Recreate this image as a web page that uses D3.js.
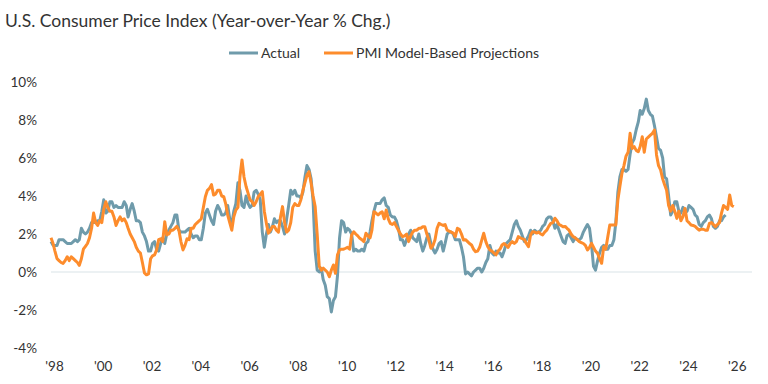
<html>
<head>
  <title>U.S. CPI vs PMI model</title>
  <script src="https://d3js.org/d3.v7.min.js"></script>
  <meta charset="utf-8">
</head>

<style>
  body {
    margin: 0;
    background: #fff;
  }

  text {
    font-family: Lato, 'Open Sans', sans-serif;
    fill: #333;
  }

  .axis path {
    display: none;
  }
</style>

<body>
  <div class="chart"></div>

  <script>
    // monthly data, first point = Jan 1998
    var startYear = 1998;

    // CPI YoY % chg, Jan 1998 .. Sep 2025
    var actual = [
      1.6,1.4,1.4,1.4,1.7,1.7,1.7,1.6,1.5,1.5,1.5,1.6,
      1.7,1.6,1.7,2.3,2.1,2.0,2.1,2.3,2.6,2.6,2.6,2.7,
      2.7,3.2,3.8,3.1,3.2,3.7,3.7,3.4,3.5,3.4,3.4,3.4,
      3.7,3.5,2.9,3.3,3.6,3.2,2.7,2.7,2.6,2.1,1.9,1.6,
      1.1,1.1,1.5,1.6,1.2,1.1,1.5,1.8,1.5,2.0,2.2,2.4,
      2.6,3.0,3.0,2.2,2.1,2.1,2.1,2.2,2.3,2.0,1.8,1.9,
      1.9,1.7,1.7,2.3,3.1,3.3,3.0,2.7,2.5,3.2,3.5,3.3,
      3.0,3.0,3.1,3.5,2.8,2.5,3.2,3.6,4.7,4.3,3.5,3.4,
      4.0,3.6,3.4,3.5,4.2,4.3,4.1,3.8,2.1,1.3,2.0,2.5,
      2.1,2.4,2.8,2.6,2.7,2.7,2.4,2.0,2.8,3.5,4.3,4.1,
      4.3,4.0,4.0,3.9,4.2,5.0,5.6,5.4,4.9,3.7,1.1,0.1,
      0.0,0.2,-0.4,-0.7,-1.3,-1.4,-2.1,-1.5,-1.3,-0.2,1.8,2.7,
      2.6,2.1,2.3,2.2,2.0,1.1,1.2,1.1,1.1,1.2,1.1,1.5,
      1.6,2.1,2.7,3.2,3.6,3.6,3.6,3.8,3.9,3.5,3.4,3.0,
      2.9,2.9,2.7,2.3,1.7,1.7,1.4,1.7,2.0,2.2,1.8,1.7,
      1.6,2.0,1.5,1.1,1.4,1.8,2.0,1.5,1.2,1.0,1.2,1.5,
      1.6,1.1,1.5,2.0,2.1,2.1,2.0,1.7,1.7,1.7,1.3,0.8,
      -0.1,0.0,-0.1,-0.2,0.0,0.1,0.2,0.2,0.0,0.2,0.5,0.7,
      1.4,1.0,0.9,1.1,1.0,1.0,0.8,1.1,1.5,1.6,1.7,2.1,
      2.5,2.7,2.4,2.2,1.9,1.6,1.7,1.9,2.2,2.0,2.2,2.1,
      2.1,2.2,2.4,2.5,2.8,2.9,2.9,2.7,2.3,2.5,2.2,1.9,
      1.6,1.5,1.9,2.0,1.8,1.6,1.8,1.7,1.7,1.8,2.1,2.3,
      2.5,2.3,1.5,0.3,0.1,0.6,1.0,1.3,1.4,1.2,1.2,1.4,
      1.4,1.7,2.6,4.2,5.0,5.4,5.4,5.3,5.4,6.2,6.8,7.0,
      7.5,7.9,8.5,8.3,8.6,9.1,8.5,8.3,8.2,7.7,7.1,6.5,
      6.4,6.0,5.0,4.9,4.0,3.0,3.2,3.7,3.7,3.2,3.1,3.4,
      3.1,3.2,3.5,3.4,3.3,3.0,2.9,2.5,2.4,2.6,2.7,2.9,
      3.0,2.8,2.4,2.3,2.4,2.7,2.7,2.9,3.0
    ];

    // PMI model-based projection, Jan 1998 .. Jan 2026
    var projected = [
      1.8,1.5,1.1,0.7,0.6,0.5,0.45,0.6,0.8,0.6,0.8,0.7,
      0.6,0.5,0.35,0.7,1.2,1.35,1.5,1.8,2.3,3.1,2.6,2.45,
      2.7,2.6,3.3,3.7,3.4,3.2,3.2,2.9,2.45,2.7,2.9,2.7,
      2.8,2.6,2.3,2.0,1.8,1.6,1.3,1.1,1.0,0.5,-0.05,-0.15,
      -0.1,0.7,0.85,0.9,1.15,1.7,1.75,1.6,2.65,1.95,2.0,2.2,
      2.2,2.3,2.4,2.2,1.6,1.16,1.4,1.75,1.7,2.3,2.3,2.5,
      2.6,2.7,2.8,3.4,3.96,4.3,4.4,4.6,4.05,4.1,4.3,4.3,
      4.0,3.96,3.6,3.0,2.6,2.2,2.9,3.26,3.4,5.0,5.9,5.0,
      4.5,4.14,3.8,3.7,3.5,3.7,3.96,4.1,4.23,3.2,2.56,2.04,
      2.2,2.4,2.4,2.2,2.1,2.9,3.44,2.6,2.1,2.2,2.6,3.4,
      3.6,3.5,3.5,3.8,4.3,4.7,5.1,5.28,4.67,4.0,3.44,2.0,
      0.3,0.1,0.2,0.1,0.0,-0.25,0.1,0.37,-0.07,0.9,1.16,1.2,
      1.2,1.25,1.3,1.2,1.95,2.12,2.0,1.9,1.77,1.7,1.6,2.04,
      1.9,1.8,2.2,3.17,3.1,3.0,3.1,3.17,2.8,3.26,2.8,2.56,
      2.5,2.6,2.4,2.2,2.0,1.86,1.9,2.0,1.6,1.9,2.1,2.2,
      2.2,2.3,2.3,2.38,2.38,2.0,1.68,1.25,1.4,1.7,2.3,2.56,
      2.5,2.45,2.5,2.2,2.15,2.1,2.05,1.86,2.3,2.25,2.0,1.68,
      1.7,1.6,1.5,1.42,1.2,1.07,1.1,1.3,1.68,2.04,1.6,1.33,
      1.16,1.1,1.0,0.9,1.1,1.2,1.42,1.5,1.4,1.3,1.5,1.6,
      1.5,1.6,1.86,1.8,1.75,1.7,1.5,1.33,1.95,2.12,2.1,2.05,
      2.1,2.0,1.95,2.1,2.2,2.4,2.56,2.6,2.83,2.7,2.5,2.45,
      2.38,2.4,2.3,2.2,2.0,1.86,1.8,1.7,1.6,1.55,1.5,1.4,
      1.16,1.3,1.51,1.3,1.1,0.98,0.7,0.46,1.33,1.2,1.86,2.47,
      2.47,2.47,2.47,3.79,4.5,5.19,5.6,6.1,6.3,7.3,6.5,6.6,
      6.4,6.33,6.6,7.12,6.3,7.0,7.1,7.2,7.3,7.47,6.16,5.6,
      5.37,4.9,4.6,4.3,3.5,3.2,3.5,3.2,2.82,3.2,2.7,2.9,
      3.35,2.7,2.6,2.47,2.45,2.4,2.3,2.2,2.25,2.25,2.2,2.2,
      2.56,2.6,2.5,2.38,2.5,2.6,3.1,3.5,3.4,3.3,4.05,3.5,
      3.44
    ];

    var seriesNames = ["Actual", "PMI Model-Based Projections"];
    var seriesColors = ["#6f9bab", "#fd8c2c"];
    var yTicks = [-4, -2, 0, 2, 4, 6, 8, 10];
    var xTickYears = d3.range(1998, 2027, 2);

    var margin = {top: 82, right: 16, bottom: 36, left: 51};
    var width = 768 - margin.left - margin.right;
    var height = 384 - margin.top - margin.bottom;

    var svg = d3.select('.chart')
      .append('svg')
        .attr('width', width + margin.left + margin.right)
        .attr('height', height + margin.top + margin.bottom);

    // title
    svg.append("text")
        .attr("x", 5)
        .attr("y", 27)
        .style("font-size", "17.5px")
        .text("U.S. Consumer Price Index (Year-over-Year % Chg.)");

    function monthDate(i) {
      return d3.timeMonth.offset(new Date(startYear, 0, 1), i);
    }

    var x = d3.scaleTime()
        .domain([new Date(startYear, 0, 1), new Date(2026, 9, 1)])
        .range([0, width]);
    var y = d3.scaleLinear().domain([-4, 10]).range([height, 0]);

    var g = svg.append("g")
      .attr("transform", "translate(" + margin.left + "," + margin.top + ")");

    // zero line
    g.append("line")
        .attr("x1", 0)
        .attr("x2", width)
        .attr("y1", y(0))
        .attr("y2", y(0))
        .style("stroke", "#dae3e8")
        .style("stroke-width", 1.2);

    g.append("g")
        .attr("class", "axis axis--y")
        .style("font-size", "13.5px")
        .call(d3.axisLeft(y).tickValues(yTicks).tickSize(0).tickPadding(14)
          .tickFormat(function(d) { return d + "%"; }));

    // labels sit a bit right of Jan 1 in the original
    g.append("g")
        .attr("class", "axis axis--x")
        .attr("transform", "translate(0," + height + ")")
        .style("font-size", "13.5px")
        .call(d3.axisBottom(x)
          .tickValues(xTickYears.map(function(yr) { return new Date(yr, 1, 15); }))
          .tickSize(0).tickPadding(13)
          .tickFormat(d3.timeFormat("'%y")));

    g.selectAll(".axis text").style("fill", "#333").style("font-family", "Lato");

    var line = d3.line()
      .x(function(d, i) { return x(monthDate(i)); })
      .y(function(d) { return y(d); });

    [actual, projected].forEach(function(s, k) {
      g.append("path")
          .datum(s)
          .attr("d", line)
          .style("fill", "none")
          .style("stroke", seriesColors[k])
          .style("stroke-width", 3)
          .style("stroke-linejoin", "round");
    });

    // legend
    var legendX = [229, 324];
    var legend = svg.selectAll(".legend")
      .data(seriesNames)
      .enter().append("g")
        .attr("class", "legend")
        .attr("transform", function(d, i) { return "translate(" + legendX[i] + ",53)"; });

    legend.append("line")
        .attr("x1", 0)
        .attr("x2", 29)
        .style("stroke", function(d, i) { return seriesColors[i]; })
        .style("stroke-width", 3);

    legend.append("text")
        .attr("x", 32)
        .attr("dy", "0.36em")
        .style("font-size", "14px")
        .text(function(d) { return d; });
  </script>

</body>
</html>
